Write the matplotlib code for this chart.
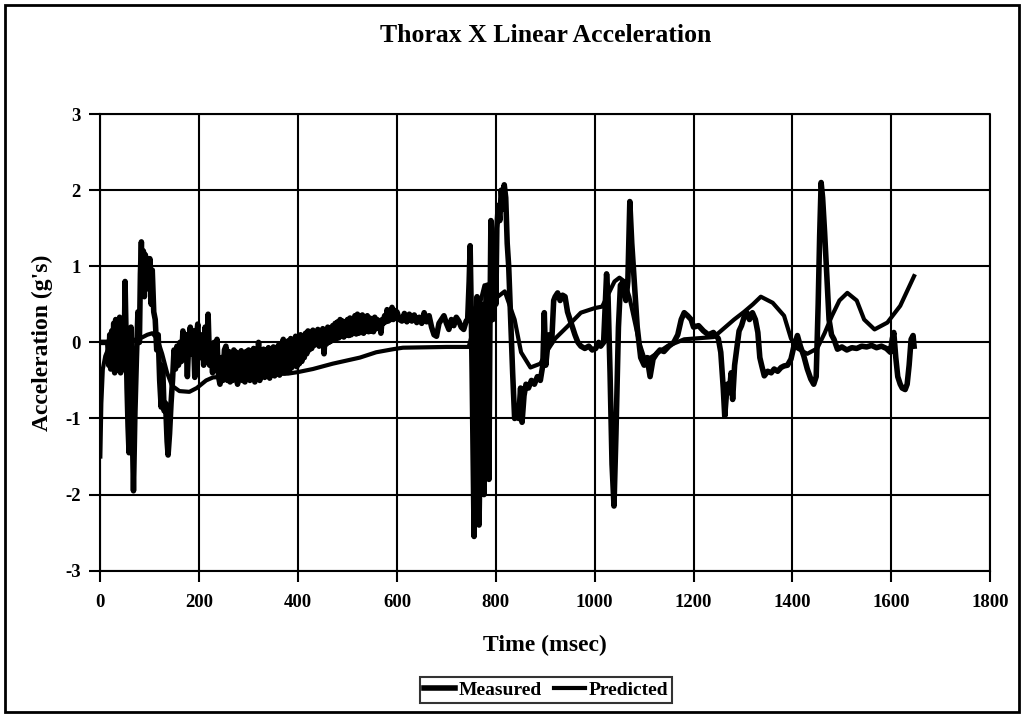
"""
Thorax X linear acceleration: measured vs predicted.
"""

import matplotlib
matplotlib.use('Agg')
import matplotlib.pyplot as plt
from matplotlib.patches import Rectangle

# Measured (msec, g's)
t_meas = [0, 5, 10, 15, 17, 19, 21, 23, 25, 27, 29, 31, 33, 35, 37, 39, 41, 43, 45, 47, 48, 50, 52, 54, 56,
          58, 60, 62, 64, 67, 70, 73, 76, 79, 81, 83, 85, 87, 89, 91, 93, 95, 98, 100, 103,
          105, 108, 111, 114, 117, 120, 123, 126, 129, 132, 135, 137, 140, 143, 146, 149, 152, 155, 158, 161,
          164, 167, 170, 173, 176, 179, 182, 185, 188, 191, 194, 197, 200, 203, 206, 209, 212, 215, 218, 221,
          224, 227, 230, 233, 236, 239, 242, 245, 248, 251, 254, 257,
          257.5, 260, 262.5, 265, 267.5, 270, 272.5, 275, 277.5, 280, 282.5, 285, 287.5, 290, 292.5,
          295, 297.5, 300, 302.5, 305, 307.5, 310, 312.5, 315, 317.5, 320, 322.5, 325, 327.5, 330,
          332.5, 335, 337.5, 340, 342.5, 345, 347.5, 350, 352.5, 355, 357.5, 360, 362.5, 365,
          367.5, 370, 372.5, 375, 377.5, 380, 382.5, 385, 387.5, 390, 392.5, 395, 397.5, 400,
          402.5, 405, 407.5, 410, 412.5, 415, 417.5, 420, 422.5, 425, 427.5, 430, 432.5, 435,
          437.5, 440, 442.5, 445, 447.5, 450, 452.5, 455, 457.5, 460, 462.5, 465, 467.5, 470,
          472.5, 475, 477.5, 480, 482.5, 485, 487.5, 490, 492.5, 495, 497.5, 500, 502.5, 505,
          507.5, 510, 512.5, 515, 517.5, 520, 522.5, 525, 527.5, 530, 532.5, 535, 537.5, 540,
          542.5, 545, 547.5, 550, 552.5, 555, 557.5, 560, 562.5, 565, 567.5, 570,
          572.5, 575, 577.5, 580, 582.5, 585, 587.5, 590, 592.5, 595, 597.5, 600,
          605, 610, 615, 620, 625, 630, 635, 640, 645, 650, 655, 660, 665, 670, 675, 680, 685, 690, 695, 700,
          705, 710, 715, 720, 725, 730, 735, 740,
          743, 746, 748, 750, 752, 754, 756, 758, 760, 762, 764, 766, 768, 770, 772, 774, 776, 778,
          780, 782, 784, 786, 788, 790, 792, 794, 796, 798, 800, 802, 805, 808, 811, 814, 817, 820,
          823, 826, 830, 834, 838, 842, 846, 850, 853, 857, 861, 866, 872, 878, 884, 890, 895, 898,
          901, 904, 908, 913, 917, 920, 925, 930, 935, 940, 945, 950, 955, 960, 966, 972, 980, 988,
          995, 1002, 1008, 1012, 1018, 1024, 1027, 1031, 1035, 1039, 1043, 1048, 1052, 1058, 1063, 1067, 1071, 1075,
          1080, 1086, 1093, 1100, 1106, 1112, 1118, 1125, 1132, 1140, 1150, 1160, 1168, 1175, 1181, 1188, 1195, 1200,
          1210, 1220, 1230, 1240, 1250, 1255, 1260, 1263, 1268, 1272, 1276, 1279, 1283, 1287, 1292, 1297, 1303, 1308,
          1313, 1319, 1325, 1330, 1334, 1338, 1343, 1350, 1357, 1363, 1370, 1377, 1383, 1390, 1397, 1403, 1410, 1416,
          1423, 1430, 1437, 1443, 1448, 1452, 1455, 1458, 1461, 1465, 1470, 1474, 1479, 1484, 1491, 1500, 1510, 1520,
          1530, 1540, 1550, 1560, 1570, 1580, 1590, 1598, 1602, 1605, 1609, 1613, 1618, 1622, 1628, 1632, 1636, 1640,
          1644, 1646]
a_meas = [0.0, 0.0, 0.0, 0.0, -0.3, 0.1, -0.35, 0.15, -0.2, 0.25, -0.4, 0.3, -0.3, 0.2, -0.1, 0.33, -0.4, 0.3, -0.35, 0.25, -0.25, 0.8, 0.1, -0.6, -1.1,
          -1.45, -0.8, 0.2, -0.9, -1.95, -0.9, -0.2, 0.4, 0.0, 0.9, 1.32, 0.7, 1.2, 0.6, 1.15, 0.75, 1.1, 0.7, 1.1, 0.5,
          0.95, 0.4, 0.3, -0.1, 0.1, -0.5, -0.85, -0.3, -0.9, -0.8, -1.3, -1.48, -1.2, -0.8, -0.5, -0.1, -0.35, -0.05, -0.3, 0.0,
          -0.25, 0.15, -0.2, 0.1, -0.45, 0.05, 0.2, -0.15, 0.15, -0.46, 0.05, 0.24, -0.1, -0.2, 0.1, -0.3, 0.2, -0.1, 0.37, -0.3,
          -0.11, -0.4, 0.0, -0.35, 0.04, -0.45, -0.55, -0.2, -0.5, -0.1, -0.05, -0.5,
          -0.45, -0.12, -0.52, -0.15, -0.5, -0.1, -0.48, -0.13, -0.55, -0.16, -0.46, -0.11, -0.5, -0.14, -0.52,
          -0.12, -0.47, -0.1, -0.5, -0.15, -0.45, -0.08, -0.52, -0.13, -0.48, 0.0, -0.5, -0.12, -0.44, -0.09,
          -0.46, -0.1, -0.43, -0.07, -0.47, -0.11, -0.42, -0.06, -0.44, -0.09, -0.4, -0.04, -0.43, -0.02,
          -0.38, 0.04, -0.4, -0.03, -0.36, 0.02, -0.37, 0.05, -0.33, 0.03, -0.3, 0.08, -0.32, 0.06,
          -0.28, 0.1, -0.25, 0.08, -0.2, 0.12, -0.15, 0.15, -0.1, 0.12, -0.08, 0.16, -0.04, 0.13,
          -0.02, 0.17, -0.05, 0.14, -0.03, 0.18, -0.15, 0.16, -0.02, 0.2, 0.0, 0.19, 0.02, 0.22,
          0.03, 0.25, 0.05, 0.27, 0.06, 0.3, 0.08, 0.28, 0.07, 0.26, 0.1, 0.3, 0.09, 0.32,
          0.1, 0.29, 0.12, 0.35, 0.11, 0.37, 0.12, 0.34, 0.13, 0.36, 0.12, 0.33, 0.15, 0.35,
          0.14, 0.32, 0.15, 0.3, 0.14, 0.33, 0.18, 0.3, 0.2, 0.25, 0.12, 0.3,
          0.25, 0.35, 0.27, 0.43, 0.28, 0.4, 0.3, 0.46, 0.3, 0.42, 0.32, 0.4,
          0.3, 0.28, 0.38, 0.27, 0.37, 0.28, 0.36, 0.26, 0.33, 0.25, 0.39, 0.27, 0.35, 0.2, 0.1, 0.08, 0.25, 0.3, 0.35, 0.25,
          0.17, 0.3, 0.22, 0.33, 0.28, 0.2, 0.17, 0.28,
          0.3, 0.8, 1.27, 0.5, -0.4, -1.5, -2.55, -1.2, 0.2, 0.6, -0.5, -2.4, -1.5, -0.3, 0.5, -1.0, -2.0, -1.2,
          0.6, 0.75, -0.6, -1.8, 0.2, 1.6, 0.9, 0.3, 0.7, 1.2, 0.5, 1.5, 1.8, 1.6, 2.0, 1.75, 2.07, 1.9,
          1.3, 1.0, 0.3, -0.4, -1.0, -0.9, -1.0, -0.6, -1.05, -0.7, -0.55, -0.6, -0.5, -0.55, -0.45, -0.5, -0.3, 0.39,
          -0.3, -0.1, 0.1, 0.0, 0.55, 0.6, 0.65, 0.55, 0.62, 0.6, 0.4, 0.3, 0.2, 0.1, 0.0, -0.05, -0.08, -0.05,
          -0.1, -0.08, 0.0, -0.05, 0.0, 0.9, 0.6, -0.4, -1.6, -2.15, -1.2, 0.2, 0.75, 0.8, 0.55, 0.8, 1.85, 1.3,
          0.8, 0.2, -0.2, -0.3, -0.2, -0.45, -0.22, -0.15, -0.1, -0.12, -0.05, 0.0, 0.1, 0.3, 0.39, 0.35, 0.3, 0.2,
          0.22, 0.15, 0.1, 0.13, 0.05, -0.13, -0.6, -0.97, -0.55, -0.66, -0.4, -0.75, -0.3, -0.1, 0.15, 0.22, 0.35, 0.39,
          0.3, 0.39, 0.3, 0.13, -0.2, -0.31, -0.44, -0.38, -0.4, -0.35, -0.38, -0.33, -0.31, -0.3, -0.22, -0.05, 0.09, -0.05,
          -0.18, -0.35, -0.48, -0.55, -0.45, 0.5, 1.4, 2.1, 1.9, 1.45, 0.8, 0.3, 0.1, 0.04, -0.09, -0.06, -0.1, -0.07,
          -0.08, -0.05, -0.06, -0.04, -0.07, -0.05, -0.08, -0.13, 0.05, 0.13, -0.2, -0.45, -0.55, -0.6, -0.62, -0.55, -0.3, 0.04,
          0.09, -0.05]

# Predicted (msec, g's)
t_pred = [0, 2, 5, 10, 15, 25, 40, 60, 80, 95, 105, 115, 125, 135, 145, 160, 180, 195, 214, 228,
          260, 300, 340, 380, 400, 430, 470, 525, 558, 592, 612, 700, 745, 760, 777, 790, 804, 818, 838, 851,
          870, 890, 905, 920, 945, 972, 1000, 1015, 1025, 1040, 1050, 1060, 1070, 1080, 1090, 1100, 1113, 1147, 1181, 1241,
          1282, 1302, 1320, 1336, 1360, 1383, 1397, 1410, 1430, 1450, 1465, 1480, 1495, 1511, 1530, 1545, 1566, 1592, 1618, 1646]
a_pred = [-1.5, -0.8, -0.35, -0.18, -0.1, -0.03, 0.0, 0.02, 0.05, 0.1, 0.12, 0.05, -0.15, -0.4, -0.57, -0.64, -0.65, -0.6, -0.5, -0.46,
          -0.45, -0.43, -0.42, -0.41, -0.39, -0.35, -0.28, -0.2, -0.13, -0.09, -0.07, -0.06, -0.06, 0.3, 0.75, 0.72, 0.6, 0.67, 0.3, -0.13,
          -0.33, -0.28, -0.1, 0.05, 0.21, 0.39, 0.45, 0.47, 0.6, 0.8, 0.85, 0.8, 0.6, 0.3, 0.0, -0.2, -0.2, -0.05, 0.04, 0.07,
          0.3, 0.4, 0.5, 0.6, 0.52, 0.35, 0.05, -0.08, -0.15, -0.08, 0.12, 0.35, 0.55, 0.65, 0.55, 0.3, 0.17, 0.26, 0.48, 0.87]

x_ticks = [0, 200, 400, 600, 800, 1000, 1200, 1400, 1600, 1800]
y_ticks = [-3, -2, -1, 0, 1, 2, 3]

plt.rcParams['font.family'] = ['Liberation Serif', 'DejaVu Serif']
plt.rcParams['font.weight'] = 'bold'
plt.rcParams['axes.unicode_minus'] = False

fig = plt.figure(figsize=(10.24, 7.17), dpi=100)
ax = fig.add_axes([0.098, 0.204, 0.869, 0.637])

ax.plot(t_meas, a_meas, color='black', lw=4.0, label='Measured', solid_joinstyle='round')
ax.plot(t_pred, a_pred, color='black', lw=3.0, label='Predicted', solid_joinstyle='round')

ax.set_xlim(0, 1800)
ax.set_ylim(-3, 3)
ax.set_xticks(x_ticks)
ax.set_yticks(y_ticks)
ax.grid(True, color='black', lw=1.5)
ax.set_axisbelow(True)
ax.tick_params(direction='out', length=8, width=1.5, labelsize=13.5)
ax.tick_params(axis='x', pad=9)
ax.tick_params(axis='y', pad=6)
for s in ['top', 'right']:
    ax.spines[s].set_linestyle((0, (1, 1)))
    ax.spines[s].set_linewidth(1.5)
for s in ['left', 'bottom']:
    ax.spines[s].set_linewidth(1.5)

ax.set_xlabel('Time (msec)', fontsize=17, fontweight='bold', labelpad=17)
ax.set_ylabel("Acceleration (g's)", fontsize=17, fontweight='bold')
ax.yaxis.set_label_coords(-0.053, 0.5)
fig.text(0.533, 0.951, 'Thorax X Linear Acceleration', ha='center', va='center',
         fontsize=18.5, fontweight='bold')

leg = ax.legend(loc='center', bbox_to_anchor=(0.5333, 0.0377), bbox_transform=fig.transFigure,
                ncol=2, frameon=True, fancybox=False, edgecolor='black', fontsize=14,
                handlelength=1.6, handletextpad=0.2, columnspacing=0.6, borderpad=0.2)
leg.get_frame().set_linewidth(1.5)

fig.patches.append(Rectangle((0.005, 0.007), 0.99, 0.986, transform=fig.transFigure,
                             fill=False, edgecolor='black', lw=2))

fig.savefig('out.png', dpi=100)
